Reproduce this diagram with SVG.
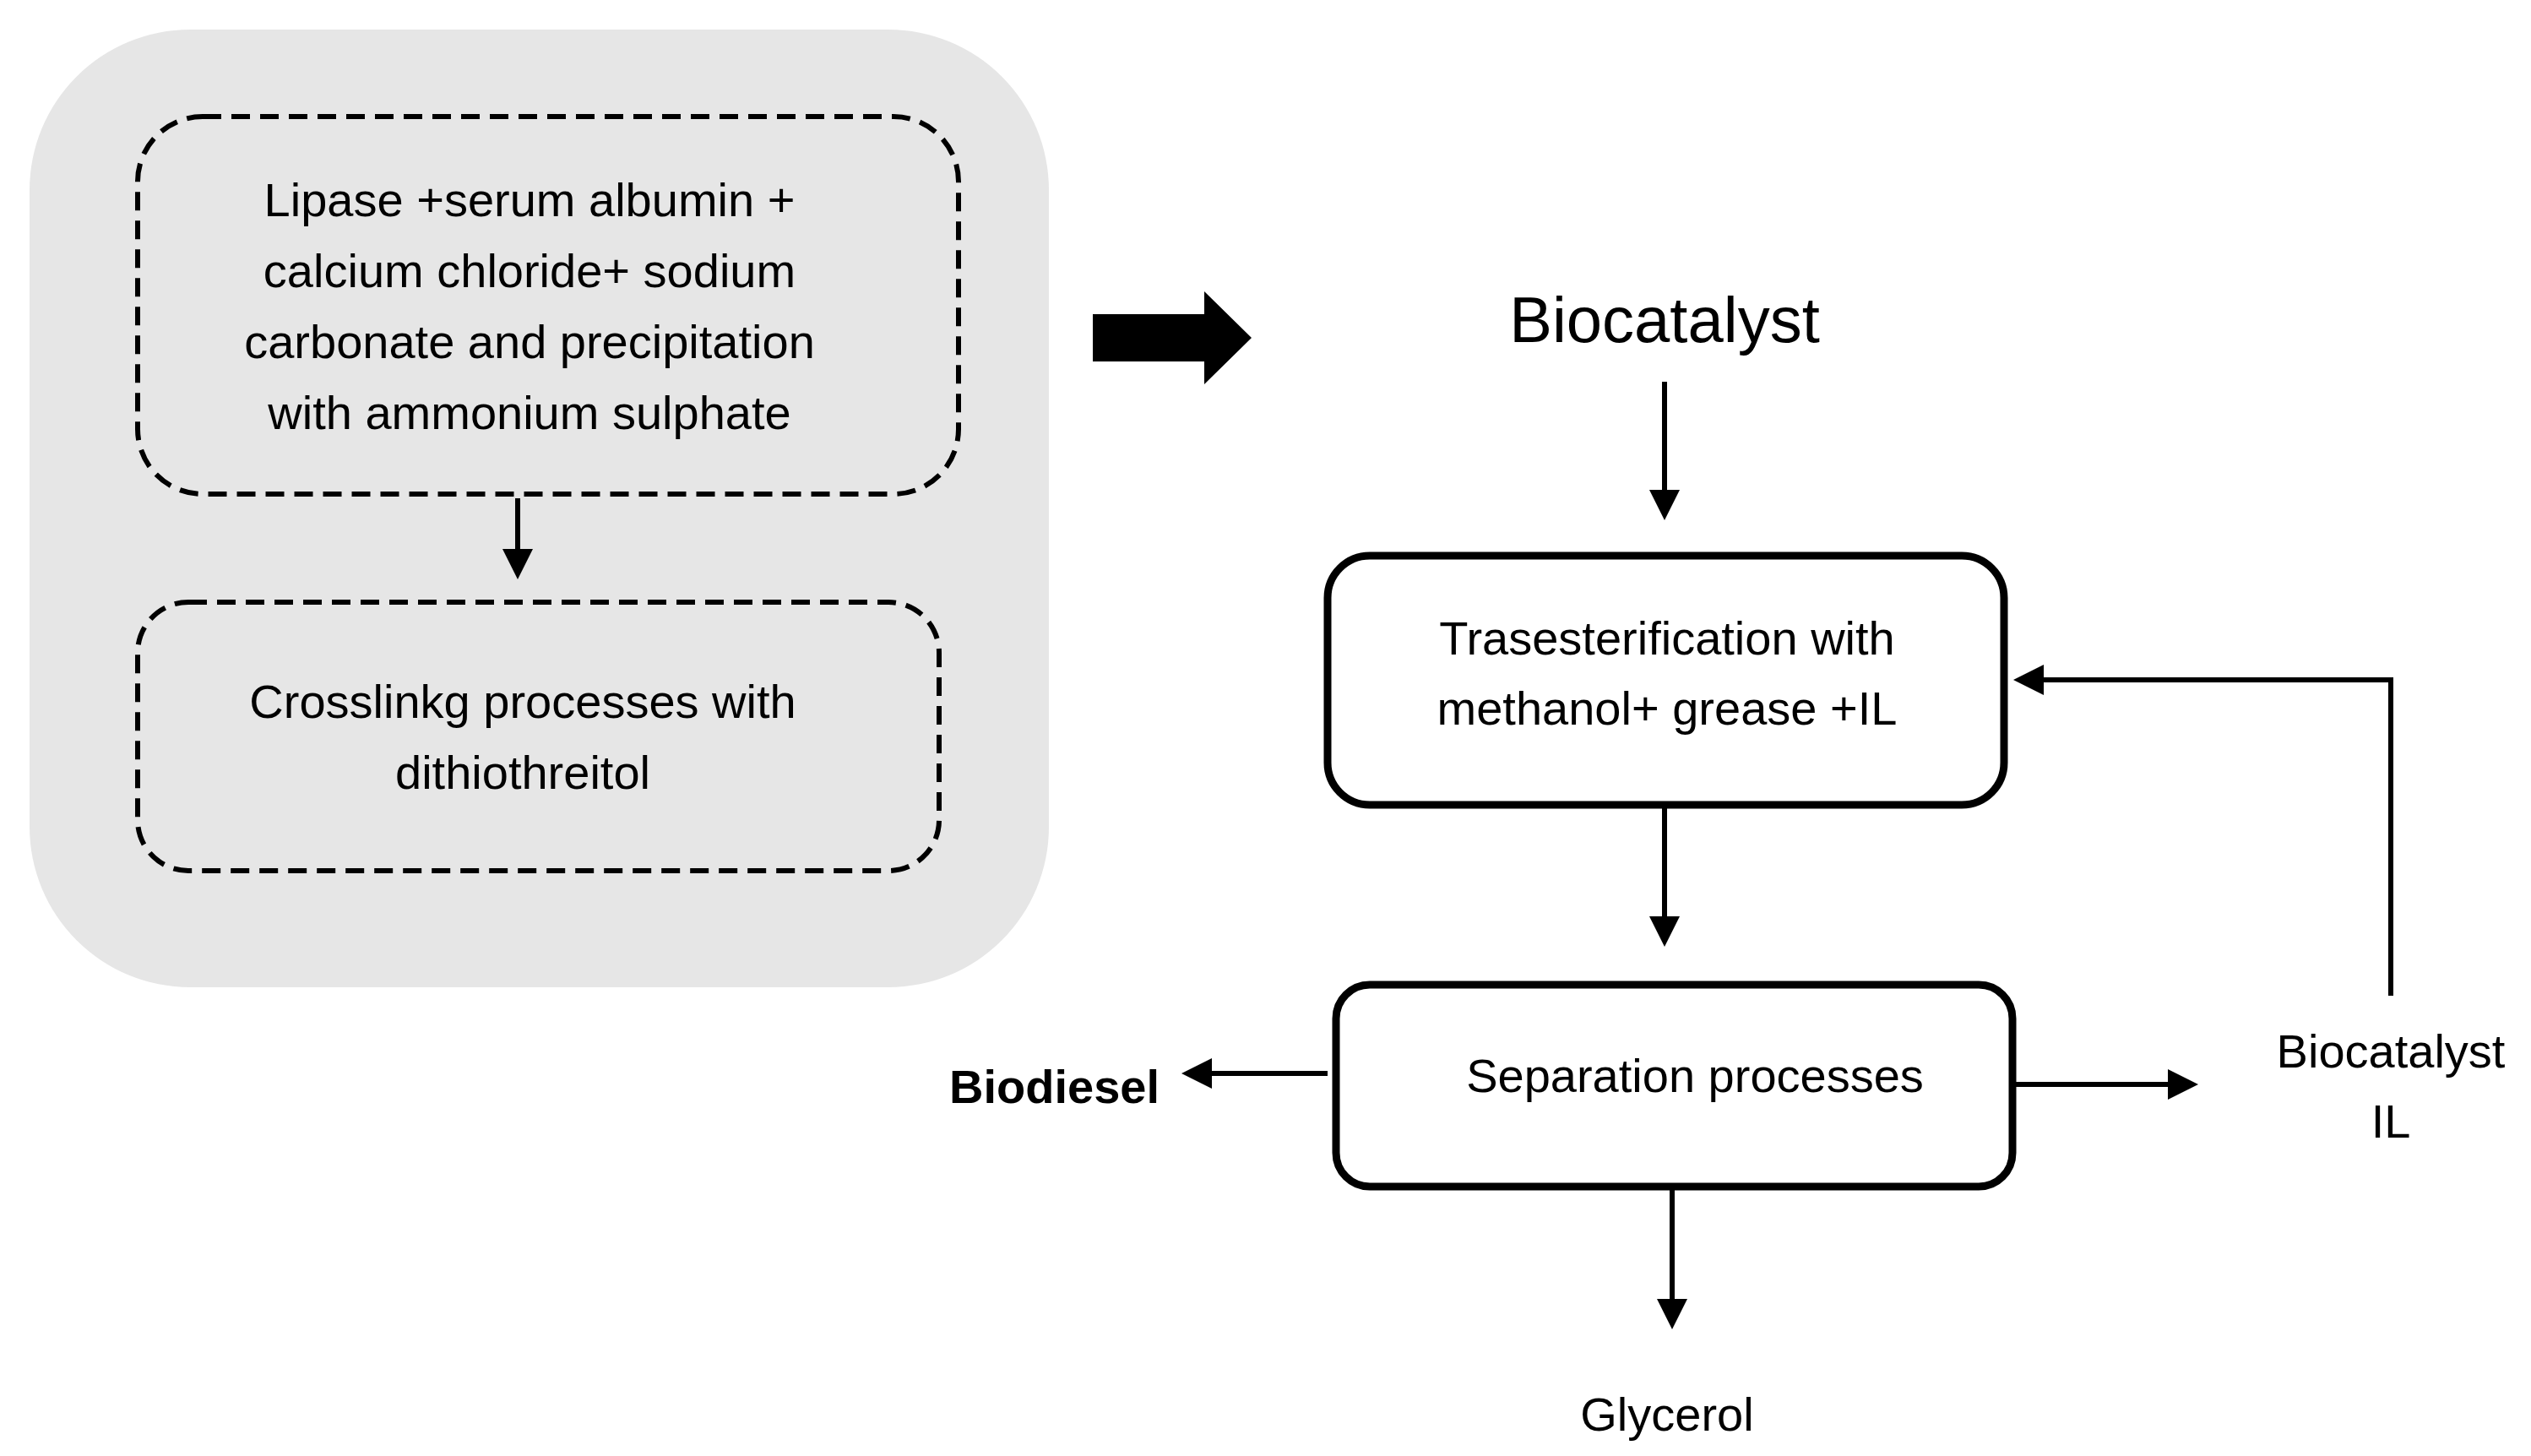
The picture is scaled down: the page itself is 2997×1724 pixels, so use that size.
<svg xmlns="http://www.w3.org/2000/svg" width="2997" height="1724" viewBox="0 0 2997 1724">
<style>
text{font-family:"Liberation Sans",Arial,sans-serif;font-size:56px;fill:#000;text-anchor:middle}
.d{fill:none;stroke:#000;stroke-width:6;stroke-dasharray:22 12}
.s{fill:#fff;stroke:#000;stroke-width:9}
.c{stroke:#000;stroke-width:6;fill:none}
</style>
<defs><marker id="a" markerWidth="6" markerHeight="6" refX="5" refY="3" orient="auto" markerUnits="strokeWidth"><path d="M0,0L6,3L0,6z" fill="#000"/></marker></defs>
<rect width="2997" height="1724" fill="#fff"/>
<g id="bg"><rect x="35" y="35" width="1207" height="1134" rx="190" fill="#e6e6e6"/></g>
<g id="n1"><rect class="d" x="163" y="138" width="972" height="447" rx="77"/>
<text x="627" y="256">Lipase +serum albumin +</text><text x="627" y="340">calcium chloride+ sodium</text><text x="627" y="424">carbonate and precipitation</text><text x="627" y="508">with ammonium sulphate</text></g>
<g id="n2"><rect class="d" x="163" y="713" width="949" height="318" rx="60"/>
<text x="619" y="850">Crosslinkg processes with</text><text x="619" y="934">dithiothreitol</text></g>
<g id="bigarrow"><path d="M1294,372H1426V345L1482,400L1426,455V428H1294Z" fill="#000"/></g>
<g id="title"><text x="1971" y="405" style="font-size:76px">Biocatalyst</text></g>
<g id="n3"><rect class="s" x="1572" y="658" width="801" height="295" rx="50"/>
<text x="1974" y="775">Trasesterification with</text><text x="1974" y="858">methanol+ grease +IL</text></g>
<g id="n4"><rect class="s" x="1582" y="1166" width="801" height="239" rx="40"/>
<text x="2007" y="1293">Separation processes</text></g>
<g id="biodiesel"><text x="1373" y="1306" style="text-anchor:end;font-weight:bold">Biodiesel</text></g>
<g id="bil"><text x="2831" y="1264">Biocatalyst</text><text x="2831" y="1347">IL</text></g>
<g id="glycerol"><text x="1974" y="1694">Glycerol</text></g>
<g id="connectors">
<line class="c" x1="613" y1="590" x2="613" y2="680" marker-end="url(#a)"/>
<line class="c" x1="1971" y1="452" x2="1971" y2="610" marker-end="url(#a)"/>
<line class="c" stroke-width="8" x1="1971" y1="957" x2="1971" y2="1115" marker-end="url(#a)"/>
<line class="c" x1="1572" y1="1271" x2="1405" y2="1271" marker-end="url(#a)"/>
<line class="c" x1="2387" y1="1284" x2="2597" y2="1284" marker-end="url(#a)"/>
<polyline class="c" points="2831,1179 2831,805 2390,805" marker-end="url(#a)"/>
<line class="c" stroke-width="8" x1="1980" y1="1409" x2="1980" y2="1568" marker-end="url(#a)"/>
</g>
</svg>
